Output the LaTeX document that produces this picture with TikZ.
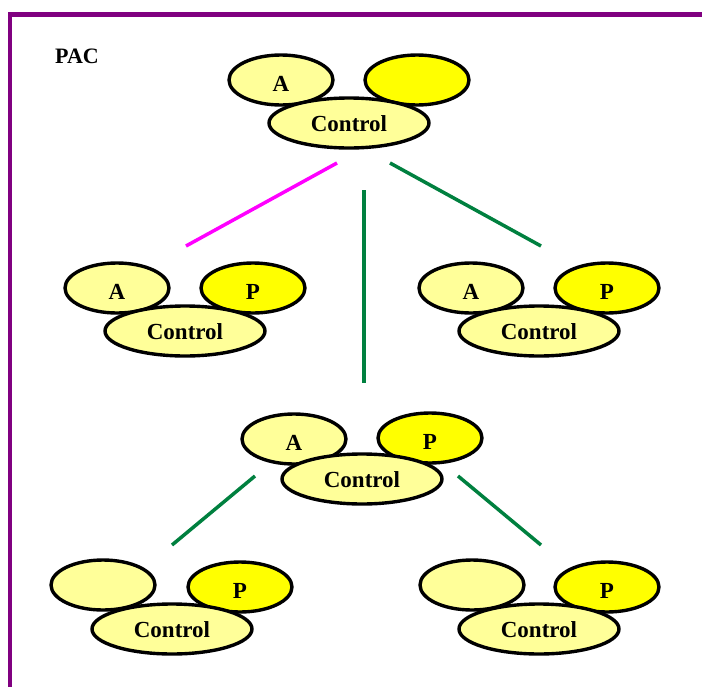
\documentclass[tikz,border=0pt]{standalone}
\usepackage{fontspec}
\setmainfont{Liberation Serif}
\usetikzlibrary{shapes.geometric}
\definecolor{paleyel}{HTML}{FFFF99}
\definecolor{brightyel}{HTML}{FFFF00}
\definecolor{frame}{HTML}{800080}
\definecolor{linkgreen}{HTML}{00803F}
\definecolor{linkmag}{HTML}{FF00FF}
\begin{document}
\begin{tikzpicture}[x=1pt,y=-1pt,
  blob/.style={ellipse,draw=black,line width=3.4pt,inner sep=0pt,
    font=\fontsize{23}{23}\selectfont\bfseries,text depth=0pt},
  side/.style={blob,minimum width=104pt,minimum height=50pt,text height=22pt},
  sideA/.style={side,fill=paleyel},
  sideP/.style={side,fill=brightyel},
  ctrl/.style={blob,fill=paleyel,minimum width=160pt,minimum height=50pt,text height=17pt},
  link/.style={line width=3.5pt,linkgreen},
  linkm/.style={line width=3.5pt,linkmag}]
\useasboundingbox (0,0) rectangle (702,686);
% frame along the top and left
\draw[frame,line width=4.2pt] (10.3,690) -- (10.3,14.5) -- (706,14.5);
\node[font=\fontsize{22}{22}\selectfont\bfseries,anchor=base] (pac) at (77,63) {PAC};

% top group
\node[sideA] (tA) at (281,80) {A};
\node[sideP] (tP) at (417,80) {};
\node[ctrl]  (tC) at (349,123) {Control};

% middle left group
\node[sideA] (lA) at (117,288) {A};
\node[sideP] (lP) at (253,288) {P};
\node[ctrl]  (lC) at (185,331) {Control};

% middle right group
\node[sideA] (rA) at (471,288) {A};
\node[sideP] (rP) at (607,288) {P};
\node[ctrl]  (rC) at (539,331) {Control};

% centre group
\node[sideA] (cA) at (294,439) {A};
\node[sideP] (cP) at (430,438) {P};
\node[ctrl]  (cC) at (362,479) {Control};

% bottom left group
\node[sideA] (bA) at (103,585) {};
\node[sideP] (bP) at (240,587) {P};
\node[ctrl]  (bC) at (172,629) {Control};

% bottom right group
\node[sideA] (eA) at (472,585) {};
\node[sideP] (eP) at (607,587) {P};
\node[ctrl]  (eC) at (539,629) {Control};

% connector end points
\coordinate (t1) at (337,163);
\coordinate (t2) at (364,190);
\coordinate (t3) at (390,163);
\coordinate (l1) at (186,246);
\coordinate (c1) at (364,383);
\coordinate (r1) at (541,246);
\coordinate (c2) at (255,476);
\coordinate (c3) at (458,476);
\coordinate (b1) at (172,545);
\coordinate (e1) at (541,545);

\draw[linkm] (t1) -- (l1);
\draw[link] (t2) -- (c1);
\draw[link] (t3) -- (r1);
\draw[link] (c2) -- (b1);
\draw[link] (c3) -- (e1);
\end{tikzpicture}
\end{document}
